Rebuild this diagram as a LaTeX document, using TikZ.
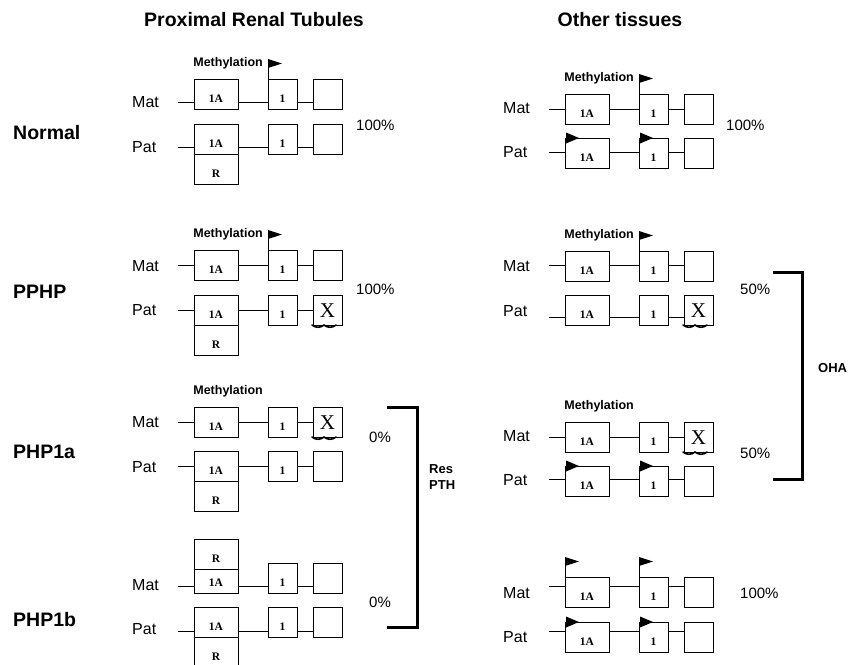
\documentclass[tikz,border=0pt]{standalone}
\usepackage{fontspec}
\setmainfont{Liberation Sans}
\newfontfamily\timesfont{Liberation Serif}
\usetikzlibrary{calc}

\begin{document}
\begin{tikzpicture}[x=1pt, y=-1pt,
    exon/.style={draw, fill=white, line width=0.8pt, inner sep=0pt, outer sep=0pt,
        anchor=north west, minimum height=30pt, text height=17pt, text depth=0pt,
        font=\timesfont\bfseries\fontsize{11.5}{13}\selectfont},
    wide/.style={exon, minimum width=44pt},
    narrow/.style={exon, minimum width=29pt},
    xmark/.style={text height=14pt, text depth=0pt, font=\timesfont\fontsize{21}{24}\selectfont},
    strand/.style={line width=0.8pt},
    allele/.style={anchor=west, inner sep=0pt, font=\fontsize{16}{18}\selectfont},
    rowlab/.style={anchor=west, inner sep=0pt, font=\bfseries\fontsize{19.5}{22}\selectfont},
    head/.style={inner sep=0pt, font=\bfseries\fontsize{19.5}{22}\selectfont},
    methyl/.style={anchor=east, inner sep=0pt, font=\bfseries\fontsize{12.5}{14}\selectfont},
    pct/.style={anchor=west, inner sep=0pt, font=\fontsize{15}{18}\selectfont},
    tag/.style={anchor=west, inner sep=0pt, align=left, font=\bfseries\fontsize{13}{16}\selectfont},
    bracket/.style={line width=3pt},
    squig/.style={line width=1.6pt, line cap=round}]
    \fill[white] (0,0) rectangle (851,664);
    \useasboundingbox (0,0) rectangle (851,664);

    % Column headers
    \node[head] (hprt) at (254,20) {Proximal Renal Tubules};
    \node[head] (hoth) at (620,20) {Other tissues};

    % Row labels
    \node[rowlab] (normal) at (13,133) {Normal};
    \node[rowlab] (pphp) at (13,292) {PPHP};
    \node[rowlab] (phpa) at (13,452) {PHP1a};
    \node[rowlab] (phpb) at (13,620) {PHP1b};

    % Alleles: strand, exons 1A, 1 and the next one
    \foreach \dx/\yt/\yl/\yb/\lab/\nm in {
        0/79/102/102/Mat/LNM, 0/124/147/147/Pat/LNP,
        0/250/265/266/Mat/LPM, 0/295/310/310/Pat/LPP,
        0/407/422/422/Mat/LAM, 0/451/466/467/Pat/LAP,
        0/563/586/585/Mat/LBM, 0/607/631/629/Pat/LBP,
        371/94/109/108/Mat/RNM, 371/138/152/152/Pat/RNP,
        371/251/265/266/Mat/RPM, 371/295/317/311/Pat/RPP,
        371/422/437/436/Mat/RAM, 371/466/479/480/Pat/RAP,
        371/577/586/593/Mat/RBM, 371/622/631/637/Pat/RBP} {
        \coordinate (\nm s) at (178+\dx,\yl);
        \coordinate (\nm e) at (342+\dx,\yl);
        \draw[strand] (\nm s) -- (\nm e);
        \node[wide] (\nm a) at (194+\dx,\yt) {1A};
        \node[narrow] (\nm b) at (268+\dx,\yt) {1};
        \node[narrow] (\nm c) at (313+\dx,\yt) {};
        \node[allele] (\nm l) at (132+\dx,\yb) {\lab};
    }

    % R boxes
    \node[wide] (LNPr) at (194,154) {R};
    \node[wide] (LPPr) at (194,325) {R};
    \node[wide] (LAPr) at (194,481) {R};
    \node[wide] (LBMr) at (194,539) {R};
    \node[wide] (LBPr) at (194,637) {R};

    % Mutated exons
    \foreach \nm in {LPPc, LAMc, RPPc, RAMc} {
        \node[narrow, xmark] (\nm x) at (\nm.north west) {X};
        \draw[squig] ($(\nm x.south west)+(-1,0)$) to[bend right=40] ++(12,0)
            to[bend right=40] ++(12,0);
    }

    % Methylation
    \foreach \nm in {LNMb, LPMb, LAMb, RNMb, RPMb, RAMb}
        \node[methyl] (\nm t) at ($(\nm.north west)+(-5,-16)$) {Methylation};

    % Flags on the maternal alleles
    \foreach \nm in {LNMb, LPMb, RNMb, RPMb, RBMa, RBMb} {
        \draw[strand] (\nm.north west) -- ++(0,-20) coordinate (\nm f);
        \fill (\nm f) -- ++(14,4.5) -- ++(-14,4.5) -- cycle;
    }
    % Flags on the paternal alleles
    \foreach \nm in {RNPa, RNPb, RAPa, RAPb, RBPa, RBPb}
        \fill ($(\nm.north west)+(1,-5.5)$) -- ++(13,5.5) -- ++(-13,5.5) -- cycle;

    % Percentages
    \node[pct] (lnpc) at (356,125) {100\%};
    \node[pct] (lppc) at (356,289) {100\%};
    \node[pct] (lapc) at (369,437) {0\%};
    \node[pct] (lbpc) at (369,602) {0\%};
    \node[pct] (rnpc) at (726,125) {100\%};
    \node[pct] (rppc) at (740,289) {50\%};
    \node[pct] (rapc) at (740,453) {50\%};
    \node[pct] (rbpc) at (740,593) {100\%};

    % Brackets
    \draw[bracket] (387,407) -- (417,407) -- (417,627) -- (387,627);
    \node[tag] (respth) at (429,477) {Res\\PTH};
    \draw[bracket] (773,272) -- (802,272) -- (802,479) -- (773,479);
    \node[tag] (oha) at (818,368) {OHA};
\end{tikzpicture}
\end{document}
